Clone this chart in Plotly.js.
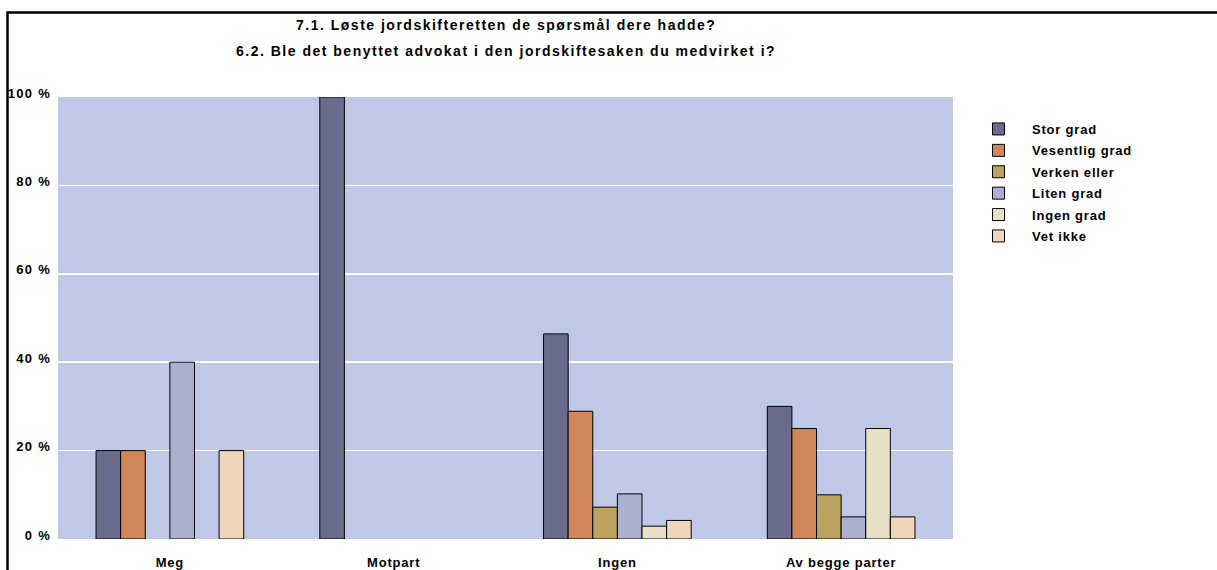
<!DOCTYPE html>
<html><head><meta charset="utf-8">
<script src="https://cdn.plot.ly/plotly-3.0.1.min.js"></script>
<style>
body{margin:0;padding:0;background:#fff}
#chart{width:1217px;height:570px}
#chart .xtick text{letter-spacing:0.8px}
#chart .ytick text{letter-spacing:1.3px}
.legendtext{letter-spacing:0.8px}
.annotation-text{letter-spacing:1.5px}
</style>
</head><body><div id="chart"></div>
<script>
const categories = ["Meg", "Motpart", "Ingen", "Av begge parter"];
const seriesNames = ["Stor grad", "Vesentlig grad", "Verken eller", "Liten grad", "Ingen grad", "Vet ikke"];
const storGrad = [20, 100, 46.4, 30];
const vesentligGrad = [20, null, 28.9, 25];
const verkenEller = [null, null, 7.2, 10];
const litenGrad = [40, null, 10.2, 5];
const ingenGrad = [null, null, 2.9, 25];
const vetIkke = [20, null, 4.2, 5];
const colors = ["#696C8C", "#D08659", "#BBA35F", "#ADAFD0", "#E8E0C4", "#EED5BC"];
const yTickVals = [0, 20, 40, 60, 80, 100];
const yTickText = ["0 %", "20 %", "40 %", "60 %", "80 %", "100 %"];
const titleLines = ["7.1. Løste jordskifteretten de spørsmål dere hadde?", "6.2. Ble det benyttet advokat i den jordskiftesaken du medvirket i?"];

const seriesValues = [storGrad, vesentligGrad, verkenEller, litenGrad, ingenGrad, vetIkke];
const FONT = "Liberation Sans, Arial, sans-serif";

const traces = seriesValues.map((vals, i) => ({
  type: "bar",
  name: seriesNames[i],
  legendgroup: "g" + i,
  x: categories,
  y: vals,
  marker: {color: colors[i], line: {color: "#000", width: 1}},
  hoverinfo: "none"
}));

const W = 895, H = 442;
const layout = {
  width: 1217, height: 570,
  margin: {l: 58, r: 264, t: 97, b: 31},
  paper_bgcolor: "#ffffff",
  plot_bgcolor: "#BFC8E6",
  barmode: "group",
  bargap: 0.34,
  bargroupgap: 0,
  showlegend: true,
  legend: {
    x: (965 - 58) / W, y: (539 - 114) / H, xanchor: "left", yanchor: "top",
    font: {family: FONT, size: 13, color: "#000", weight: "bold"},
    bgcolor: "rgba(0,0,0,0)", tracegroupgap: 1.5, itemwidth: 57
  },
  xaxis: {
    type: "category", showgrid: false, zeroline: false, showline: false,
    ticks: "", tickfont: {family: FONT, size: 13, color: "#000", weight: "bold"},
    ticklabelstandoff: 14, fixedrange: true
  },
  yaxis: {
    range: [0, 100], tickvals: yTickVals, ticktext: yTickText,
    showgrid: true, gridcolor: "#ffffff", gridwidth: 1.5, zeroline: false,
    showline: false, ticks: "", ticklabelstandoff: 6, ticklabelshift: -4,
    tickfont: {family: FONT, size: 13, color: "#000", weight: "bold"}, fixedrange: true
  },
  shapes: [{
    type: "rect", xref: "paper", yref: "paper",
    x0: (7.5 - 58) / W, x1: (1230 - 58) / W,
    y0: (539 - 590) / H, y1: (539 - 12.5) / H,
    line: {color: "#000", width: 2.5}, fillcolor: "rgba(0,0,0,0)", layer: "above"
  }],
  annotations: [
    {text: titleLines[0], xref: "paper", yref: "paper", x: 0.5, y: (539 - 25) / H,
     showarrow: false, xanchor: "center", yanchor: "middle",
     font: {family: FONT, size: 14, color: "#000", weight: "bold"}},
    {text: titleLines[1], xref: "paper", yref: "paper", x: 0.5, y: (539 - 51) / H,
     showarrow: false, xanchor: "center", yanchor: "middle",
     font: {family: FONT, size: 14, color: "#000", weight: "bold"}}
  ]
};
Plotly.newPlot("chart", traces, layout, {displayModeBar: false, staticPlot: true});
</script></body></html>
